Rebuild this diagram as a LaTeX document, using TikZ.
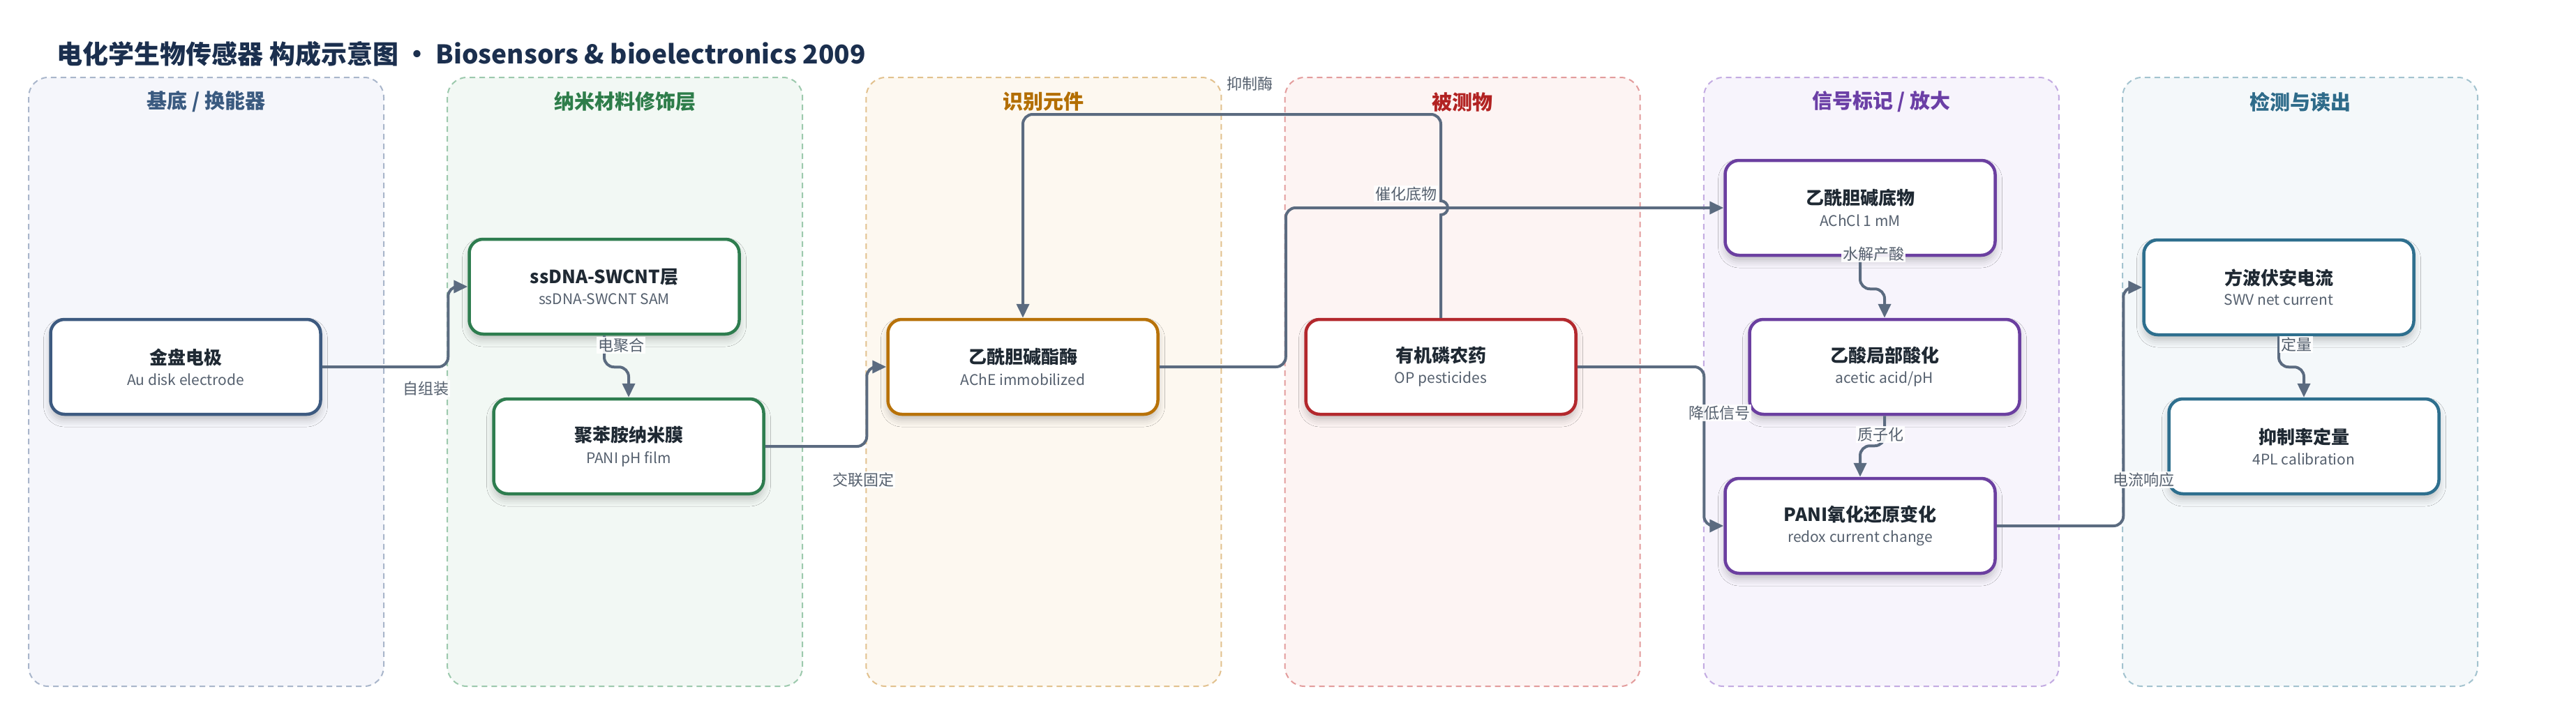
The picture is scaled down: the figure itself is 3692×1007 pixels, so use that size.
\documentclass[tikz,border=0pt]{standalone}
\usepackage{fontspec}
\setmainfont{Noto Sans CJK SC}
\usetikzlibrary{arrows.meta,calc,shadows.blur}

\definecolor{titlec}{HTML}{1B2F4E}
\definecolor{ink}{HTML}{1F2933}
\definecolor{subc}{HTML}{55606E}
\definecolor{edgec}{HTML}{5B6B80}
% lane colours: dash / fill / head / line
\definecolor{dashA}{HTML}{A9B6CB}\definecolor{fillA}{HTML}{F5F6FB}\definecolor{headA}{HTML}{3A5A80}\definecolor{lineA}{HTML}{3D5A80}
\definecolor{dashB}{HTML}{9CC9AD}\definecolor{fillB}{HTML}{F2F8F4}\definecolor{headB}{HTML}{2E7D4A}\definecolor{lineB}{HTML}{2E7D4F}
\definecolor{dashC}{HTML}{E2C18E}\definecolor{fillC}{HTML}{FDF8F0}\definecolor{headC}{HTML}{B36E00}\definecolor{lineC}{HTML}{B87209}
\definecolor{dashD}{HTML}{E39C9C}\definecolor{fillD}{HTML}{FDF4F3}\definecolor{headD}{HTML}{B22222}\definecolor{lineD}{HTML}{B3282D}
\definecolor{dashE}{HTML}{C3ABE2}\definecolor{fillE}{HTML}{F7F4FC}\definecolor{headE}{HTML}{6B3FA6}\definecolor{lineE}{HTML}{6B3FA0}
\definecolor{dashF}{HTML}{A3C3CF}\definecolor{fillF}{HTML}{F4F8FA}\definecolor{headF}{HTML}{2E6B8A}\definecolor{lineF}{HTML}{2E6F8E}

\newcommand{\boxtitle}{\fontsize{26}{30}\selectfont\bfseries\color{ink}}
\newcommand{\boxsub}{\fontsize{21}{26}\selectfont\color{subc}}

\tikzset{
  lane/.style={draw=dash#1,fill=fill#1,line width=2pt,dash pattern=on 8pt off 6pt,rounded corners=28pt},
  lanehead/.style={text=head#1,font=\fontsize{29}{34}\selectfont\bfseries},
  box/.style={draw=line#1,fill=white,line width=4.5pt,rounded corners=20pt,minimum width=387pt,minimum height=136pt,align=center,
    blur shadow={shadow xshift=0pt,shadow yshift=-8pt,shadow blur radius=10pt,shadow opacity=22}},
  flow/.style={draw=edgec,line width=4pt,rounded corners=14pt,-{Triangle[length=20pt,width=18pt]}},
  lbl/.style={fill=white,fill opacity=.9,text opacity=1,text=subc,font=\fontsize{22}{26}\selectfont,inner sep=2pt}
}

\begin{document}
\begin{tikzpicture}[x=1pt,y=-1pt]
\useasboundingbox (0,0) rectangle (3692,1007);
\fill[white] (0,0) rectangle (3692,1007);

\node (title) at (78,77)[anchor=west,text=titlec,font=\fontsize{37}{42}\selectfont\bfseries] {电化学生物传感器 构成示意图 · Biosensors \& bioelectronics 2009};

% lanes
\foreach \i/\c/\h in {0/A/{基底 / 换能器},1/B/纳米材料修饰层,2/C/识别元件,3/D/被测物,4/E/{信号标记 / 放大},5/F/检测与读出}{
  \draw[lane=\c] (41+600.2*\i,111) rectangle ++(509,873);
  \node (head\c) at (295.5+600.2*\i,146)[lanehead=\c] {\h};
}

% nodes
\node (elec) at (266,526)[box=A] {{\boxtitle 金盘电极}\\[10pt]{\boxsub Au disk electrode}};
\node (ssdna) at (866,411)[box=B] {{\boxtitle ssDNA-SWCNT层}\\[10pt]{\boxsub ssDNA-SWCNT SAM}};
\node (pani) at (901,640)[box=B] {{\boxtitle 聚苯胺纳米膜}\\[10pt]{\boxsub PANI pH film}};
\node (ache) at (1466,526)[box=C] {{\boxtitle 乙酰胆碱酯酶}\\[10pt]{\boxsub AChE immobilized}};
\node (op) at (2065,526)[box=D] {{\boxtitle 有机磷农药}\\[10pt]{\boxsub OP pesticides}};
\node (achcl) at (2666,298)[box=E] {{\boxtitle 乙酰胆碱底物}\\[10pt]{\boxsub AChCl 1 mM}};
\node (acid) at (2701,526)[box=E] {{\boxtitle 乙酸局部酸化}\\[10pt]{\boxsub acetic acid/pH}};
\node (redox) at (2666,754)[box=E] {{\boxtitle PANI氧化还原变化}\\[10pt]{\boxsub redox current change}};
\node (swv) at (3266,412)[box=F] {{\boxtitle 方波伏安电流}\\[10pt]{\boxsub SWV net current}};
\node (calib) at (3302,640)[box=F] {{\boxtitle 抑制率定量}\\[10pt]{\boxsub 4PL calibration}};

% connectors
\draw [flow] (elec.east) -| ([xshift=-28pt]ssdna.west) -- (ssdna.west);
\draw [flow] (ssdna.south) -- ++(0,45) -| (pani.north);
\draw [flow] (pani.east) -| ([xshift=-28pt]ache.west) -- (ache.west);
\draw [flow] (op.north) [sharp corners] -- ($(op.north |- achcl.west)+(0,10)$) arc[start angle=-90,end angle=90,radius=10pt]
  [rounded corners=14pt] -- ++(0,-124) -| (ache.north);
\draw [flow] (ache.east) -- ++(181,0) |- (achcl.west);
\draw [flow] (op.east) -| ([xshift=-28pt]redox.west) -- (redox.west);
\draw [flow] (achcl.south) -- ++(0,46) -| (acid.north);
\draw [flow] (acid.south) -- ++(0,43) -| (redox.north);
\draw [flow] (redox.east) -| ([xshift=-27pt]swv.west) -- (swv.west);
\draw [flow] (swv.south) -- ++(0,44) -| (calib.north);

% connector labels
\node (l1) at (610,557)[lbl] {自组装};
\node (l2) at (890,495)[lbl] {电聚合};
\node (l3) at (1237,688)[lbl] {交联固定};
\node (l4) at (1791,120)[lbl] {抑制酶};
\node (l5) at (2015,278)[lbl] {催化底物};
\node (l6) at (2464,592)[lbl] {降低信号};
\node (l7) at (2685,364)[lbl] {水解产酸};
\node (l8) at (2695,623)[lbl] {质子化};
\node (l9) at (3072,688)[lbl] {电流响应};
\node (l10) at (3291,494)[lbl] {定量};
\end{tikzpicture}
\end{document}
